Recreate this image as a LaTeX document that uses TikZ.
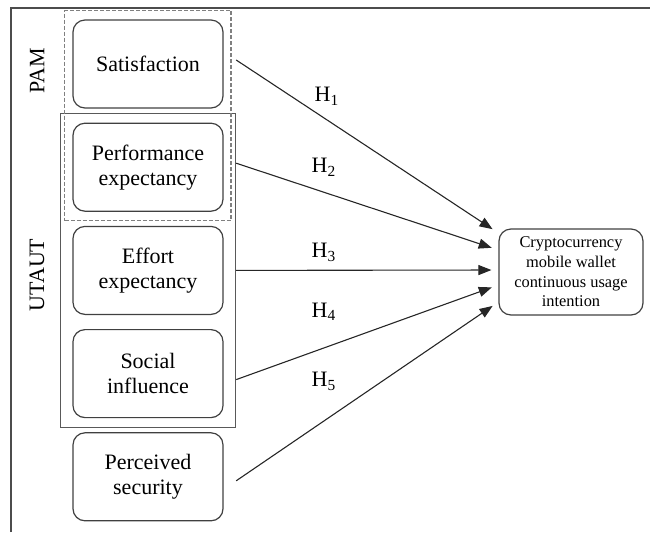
\documentclass[tikz,border=0pt]{standalone}
\usepackage{fontspec}
\setmainfont{Liberation Serif}
\usetikzlibrary{arrows.meta}
\usetikzlibrary{positioning}
\usetikzlibrary{fit}
\tikzstyle{construct}=[draw=black!75, line width=0.6pt, rounded corners=6pt, minimum width=75pt, minimum height=44pt, align=center, font={\fontsize{11}{12.5}\selectfont}]
\tikzstyle{outcome}=[construct, minimum width=72pt, minimum height=43pt, font={\fontsize{8.2}{9.8}\selectfont}]
\tikzstyle{hyp}=[font={\fontsize{11}{13}\selectfont}, inner sep=0pt]
\tikzstyle{theory}=[rotate=90, font={\fontsize{11}{13}\selectfont}]
\tikzstyle{conn}=[->, draw=black!85, line width=0.55pt, shorten >=3.5pt]

\begin{document}
\begin{tikzpicture}[x=0.5pt,y=-0.5pt,node distance=51.6pt,>={Triangle[length=6.5pt,width=5pt]}]
    \useasboundingbox (0,0) rectangle (650,532);
    \draw[black!70, line width=0.6pt] (11,532) -- (11,8) -- (650,8);

    \node [construct] (sat) at (148,64) {Satisfaction};
    \node [construct] (perf) [below of=sat] {Performance\\expectancy};
    \node [construct] (eff) [below of=perf] {Effort\\expectancy};
    \node [construct] (soc) [below of=eff] {Social\\influence};
    \node [construct] (sec) [below of=soc] {Perceived\\security};
    \node [outcome] (cuci) at (571,272) {Cryptocurrency\\mobile wallet\\continuous usage\\intention};

    % theory groups
    \node [draw=black!65, line width=0.6pt, inner xsep=6pt, inner ysep=4.5pt, fit=(perf) (soc)] (utaut) {};
    \node [draw=black!50, dash pattern=on 2pt off 1pt, line width=0.6pt, inner xsep=3.75pt, inner ysep=4.5pt, fit=(sat) (perf)] (pam) {};
    \node [theory] (pamlab) at (37,71) {PAM};
    \node [theory] (utautlab) at (37,275) {UTAUT};

    \path ([yshift=2pt]sat -| utaut.east) edge[conn] node[hyp, pos=0.346, yshift=11.75pt] {H\textsubscript{1}} ([yshift=19.5pt]cuci.west);
    \path ([yshift=2pt]perf -| utaut.east) edge[conn] node[hyp, pos=0.335, yshift=12.5pt] {H\textsubscript{2}} ([yshift=11pt]cuci.west);
    \path (eff -| utaut.east) edge[conn] node[hyp, pos=0.335, yshift=9pt] {H\textsubscript{3}} ([yshift=1pt]cuci.west);
    \path ([yshift=-3pt]soc -| utaut.east) edge[conn] node[hyp, pos=0.335, yshift=18pt] {H\textsubscript{4}} ([yshift=-6.5pt]cuci.west);
    \path ([yshift=-2pt]sec -| utaut.east) edge[conn] node[hyp, pos=0.335, yshift=19.75pt] {H\textsubscript{5}} ([yshift=-15pt]cuci.west);
\end{tikzpicture}
\end{document}
